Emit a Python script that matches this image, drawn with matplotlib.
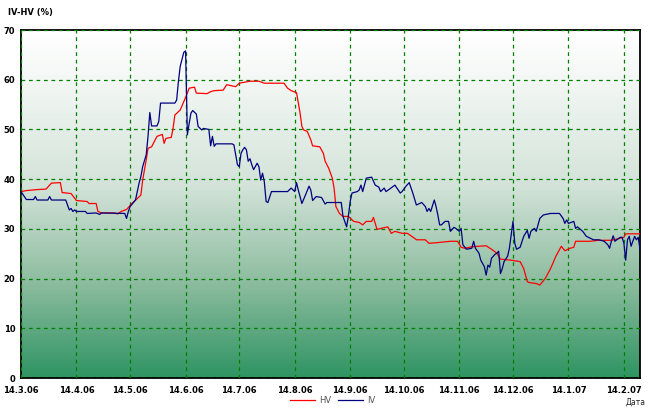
import numpy as np
import pandas as pd
import matplotlib
matplotlib.use("Agg")
import matplotlib.pyplot as plt
from matplotlib.colors import LinearSegmentedColormap

start = pd.Timestamp("2006-03-14")

hv_day = [0, 3, 9, 14, 17, 22, 23, 28, 31, 37, 38, 42, 43, 45, 52, 54, 56, 59, 62, 65,
          67, 68, 70, 71, 73, 76, 79, 80, 81, 84, 85, 86, 89, 91, 93, 94, 97, 98, 104, 106,
          108, 113, 115, 120, 122, 128, 133, 136, 147, 149, 151, 154, 156, 157, 158, 160, 162, 163, 167, 169,
          170, 172, 174, 175, 176, 178, 180, 183, 186, 189, 191, 193, 196, 197, 199, 205, 207, 209, 213, 216,
          220, 221, 226, 228, 232, 240, 244, 246, 248, 252, 260, 263, 266, 268, 274, 279, 281, 283, 284, 288,
          290, 293, 296, 299, 302, 304, 307, 309, 310, 318, 323, 330, 337, 338, 346]
hv_val = [37.5, 37.7, 37.9, 38.0, 39.2, 39.3, 37.3, 37.1, 35.7, 35.5, 35.1, 35.1, 33.5, 33.2, 33.2, 33.0, 33.5, 33.9, 35.1, 36.1,
          36.8, 39.8, 43.9, 46.2, 46.5, 48.6, 49.0, 47.2, 48.2, 48.4, 50.2, 52.9, 53.9, 55.6, 57.3, 58.3, 58.5, 57.3, 57.2, 57.6,
          57.8, 57.9, 59.0, 58.6, 59.3, 59.7, 59.7, 59.3, 59.3, 58.3, 57.8, 57.4, 53.3, 50.6, 49.9, 49.6, 47.9, 46.7, 46.5, 45.2,
          43.6, 42.2, 40.2, 38.2, 34.5, 33.1, 32.5, 32.5, 31.5, 31.3, 30.8, 31.5, 31.5, 32.3, 29.9, 30.4, 29.1, 29.5, 29.1, 29.1,
          28.1, 27.8, 27.8, 27.1, 27.2, 27.5, 27.5, 26.3, 26.1, 26.4, 26.6, 25.9, 25.1, 23.9, 23.7, 23.4, 22.0, 19.4, 19.2, 19.0,
          18.7, 20.0, 22.0, 24.5, 26.5, 25.6, 26.1, 26.3, 27.5, 27.5, 27.7, 27.7, 28.3, 29.0, 29.0]

iv_day = [0, 3, 7, 8, 9, 15, 16, 17, 25, 27, 28, 29, 30, 31, 36, 37, 42, 44, 45, 58,
          59, 60, 61, 64, 65, 66, 67, 68, 70, 71, 72, 73, 76, 77, 78, 86, 87, 88, 89, 91,
          92, 93, 94, 95, 96, 98, 99, 101, 102, 105, 106, 107, 108, 109, 118, 119, 120, 121, 122, 123,
          124, 125, 126, 127, 128, 129, 130, 132, 133, 134, 135, 136, 137, 138, 140, 149, 151, 153, 154, 155,
          157, 159, 161, 162, 163, 165, 168, 170, 171, 179, 180, 182, 183, 184, 185, 188, 189, 190, 191, 193,
          196, 198, 200, 201, 203, 204, 206, 209, 212, 213, 215, 217, 219, 221, 224, 226, 227, 228, 229, 231,
          232, 233, 234, 235, 237, 239, 240, 242, 243, 245, 246, 247, 249, 252, 253, 254, 256, 257, 259, 260,
          261, 262, 263, 265, 266, 267, 268, 269, 270, 272, 273, 274, 275, 276, 277, 279, 281, 283, 284, 285,
          287, 288, 289, 290, 292, 296, 301, 303, 304, 305, 306, 309, 310, 311, 314, 316, 320, 323, 326, 328,
          329, 330, 331, 332, 333, 335, 336, 337, 338, 339, 340, 341, 342, 343, 344, 345, 346]
iv_val = [37.5, 35.9, 35.9, 36.5, 35.8, 35.8, 36.5, 35.8, 35.8, 33.8, 34.1, 33.5, 33.8, 33.5, 33.5, 33.1, 33.2, 32.9, 33.2, 33.1,
          32.1, 33.5, 34.5, 35.8, 37.5, 39.2, 40.5, 42.5, 44.9, 48.6, 53.4, 50.7, 50.7, 51.6, 55.3, 55.3, 55.9, 59.7, 62.7, 65.5,
          65.8, 48.9, 51.2, 53.3, 53.8, 53.1, 50.6, 49.9, 50.2, 50.0, 46.7, 48.6, 46.6, 47.1, 47.1, 46.9, 44.9, 42.9, 42.5, 45.2,
          45.9, 46.4, 45.9, 43.6, 44.1, 42.9, 41.9, 43.2, 42.5, 39.8, 41.2, 39.5, 35.5, 35.3, 37.5, 37.5, 38.2, 37.5, 39.3, 37.8,
          35.1, 36.8, 38.6, 37.8, 35.7, 36.5, 36.3, 35.0, 35.3, 35.3, 32.5, 30.4, 32.6, 35.5, 37.2, 37.5, 37.8, 38.8, 37.5, 40.2,
          40.4, 38.8, 38.4, 37.5, 38.2, 37.5, 38.0, 38.8, 37.2, 37.5, 38.5, 39.3, 37.2, 34.8, 35.3, 34.5, 33.5, 34.1, 33.5, 35.8,
          34.5, 32.8, 30.8, 30.8, 31.5, 31.5, 29.5, 30.3, 30.1, 29.5, 30.1, 26.8, 25.9, 26.1, 27.5, 26.1, 25.1, 23.7, 22.4, 20.7,
          22.7, 22.3, 24.1, 24.9, 25.1, 25.5, 21.0, 22.0, 23.4, 24.5, 26.1, 28.8, 31.5, 27.1, 25.9, 26.3, 28.5, 29.7, 28.1, 29.5,
          30.1, 29.5, 30.8, 32.1, 32.8, 33.1, 33.1, 32.1, 31.1, 31.8, 31.1, 31.5, 30.1, 30.4, 29.5, 28.5, 27.8, 27.8, 27.5, 26.8,
          26.1, 27.5, 28.6, 27.5, 27.8, 28.3, 28.3, 27.1, 23.7, 27.8, 28.5, 26.5, 27.5, 28.5, 27.8, 28.3, 25.9]

tick_dates = ["2006-03-14", "2006-04-14", "2006-05-14", "2006-06-14", "2006-07-14", "2006-08-14",
              "2006-09-14", "2006-10-14", "2006-11-14", "2006-12-14", "2007-01-14", "2007-02-14"]
tick_labels = ["14.3.06", "14.4.06", "14.5.06", "14.6.06", "14.7.06", "14.8.06",
               "14.9.06", "14.10.06", "14.11.06", "14.12.06", "14.1.07", "14.2.07"]
y_ticks = [0, 10, 20, 30, 40, 50, 60, 70]

hv_x = start + pd.to_timedelta(hv_day, unit="D")
iv_x = start + pd.to_timedelta(iv_day, unit="D")

plt.rcParams['font.family'] = ['DejaVu Sans']
fig = plt.figure(figsize=(6.66, 4.15), dpi=100)
ax = fig.add_axes([21/666, 1-378/415, (640-21)/666, (378-30)/415])

# gradient background
cmap = LinearSegmentedColormap.from_list("g", [(0.0, "#ffffff"), (0.12, "#f6f9f7"), (0.45, "#d3e3d9"),
                                                (0.75, "#86b99a"), (1.0, "#2f9462")])
grad = np.linspace(0, 1, 256).reshape(-1, 1)
ax.imshow(grad, aspect="auto", cmap=cmap, extent=[0, 1, 0, 1], transform=ax.transAxes, zorder=0)

ax.plot(hv_x, hv_val, color="#ff0000", lw=0.9, label="HV", zorder=3)
ax.plot(iv_x, iv_val, color="#000080", lw=0.9, label="IV", zorder=4)

ax.set_xlim(start, start + pd.Timedelta(days=346))
ax.set_ylim(0, 70)
ax.set_xticks(pd.to_datetime(tick_dates))
ax.set_xticklabels(tick_labels)
ax.set_yticks(y_ticks)
ax.tick_params(length=0, labelsize=6, pad=6)
ax.tick_params(axis="y", pad=4)
for lab in ax.get_xticklabels() + ax.get_yticklabels():
    lab.set_fontweight("bold")
ax.grid(True, color="#008000", linestyle=(0, (3, 3)), linewidth=0.9, zorder=2)
ax.set_axisbelow(False)
for s in ax.spines.values():
    s.set_linewidth(1.3)
    s.set_color("black")

fig.text(8/666, 1-12/415, "IV-HV (%)", fontsize=6, fontweight="bold", va="center", ha="left")
fig.text(626/666, 1-402/415, "Дата", fontsize=5.5, va="center", ha="left", color="#222222")
leg = fig.legend(loc="center", bbox_to_anchor=(333/666, 1-400/415), ncol=2, frameon=False,
                 fontsize=6, handlelength=3, columnspacing=0.8, handletextpad=0.5)
for t in leg.get_texts():
    t.set_color("#555555")

fig.savefig("out.png", dpi=100)
